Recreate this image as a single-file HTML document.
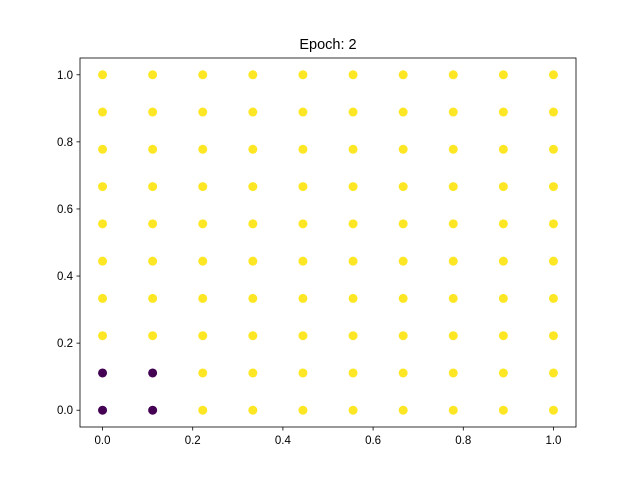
<!DOCTYPE html>
<html><head><meta charset="utf-8"><style>
body{margin:0;background:#fff}
svg{display:block;font-family:"Liberation Sans","DejaVu Sans",sans-serif}
</style></head><body>
<svg id="chart" width="640" height="480">
<rect width="640" height="480" fill="#fff"/>
<text x="328" y="49" font-size="14.5" text-anchor="middle">Epoch: 2</text>
<g id="points"></g>
<g id="axes"></g>
</svg>
<script>
const gridValues=[0,0.1111,0.2222,0.3333,0.4444,0.5556,0.6667,0.7778,0.8889,1.0];
const classes=[ // rows: y index, cols: x index
[0,0,1,1,1,1,1,1,1,1],
[0,0,1,1,1,1,1,1,1,1],
[1,1,1,1,1,1,1,1,1,1],
[1,1,1,1,1,1,1,1,1,1],
[1,1,1,1,1,1,1,1,1,1],
[1,1,1,1,1,1,1,1,1,1],
[1,1,1,1,1,1,1,1,1,1],
[1,1,1,1,1,1,1,1,1,1],
[1,1,1,1,1,1,1,1,1,1],
[1,1,1,1,1,1,1,1,1,1]];
const xTicks=[0,0.2,0.4,0.6,0.8,1.0];
const yTicks=[0,0.2,0.4,0.6,0.8,1.0];
const xTickLabels=["0.0","0.2","0.4","0.6","0.8","1.0"];
const yTickLabels=["0.0","0.2","0.4","0.6","0.8","1.0"];
const colors=["#440154","#fde725"];

const L=80,R=576,T=58,B=427;
const sx=v=>L+(v+0.05)/1.1*(R-L);
const sy=v=>B-(v+0.05)/1.1*(B-T);
const NS="http://www.w3.org/2000/svg";
const pts=document.getElementById('points');
const ax=document.getElementById('axes');
function mk(tag,attrs,parent){const e=document.createElementNS(NS,tag);for(const k in attrs)e.setAttribute(k,attrs[k]);parent.appendChild(e);return e;}
gridValues.forEach((yv,i)=>gridValues.forEach((xv,j)=>{
  const c=mk('circle',{cx:sx(xv),cy:sy(yv),r:4.5,fill:colors[classes[i][j]]},pts);
  
  
}));
const frame=mk('rect',{x:L,y:T,width:R-L,height:B-T,fill:'none',stroke:'#000','stroke-width':0.8},ax);


xTicks.forEach((v,i)=>{
  const x=sx(v);
  mk('line',{x1:x,x2:x,y1:B,y2:B+3.5,stroke:'#000','stroke-width':0.8},ax);
  const t=mk('text',{x:x,y:B+17,'font-size':11.5,'text-anchor':'middle'},ax);
  t.textContent=xTickLabels[i];
  
  
});
yTicks.forEach((v,i)=>{
  const y=sy(v);
  mk('line',{x1:L-3.5,x2:L,y1:y,y2:y,stroke:'#000','stroke-width':0.8},ax);
  const t=mk('text',{x:L-7,y:y+4,'font-size':11.5,'text-anchor':'end'},ax);
  t.textContent=yTickLabels[i];
  
  
});
</script>
</body></html>
